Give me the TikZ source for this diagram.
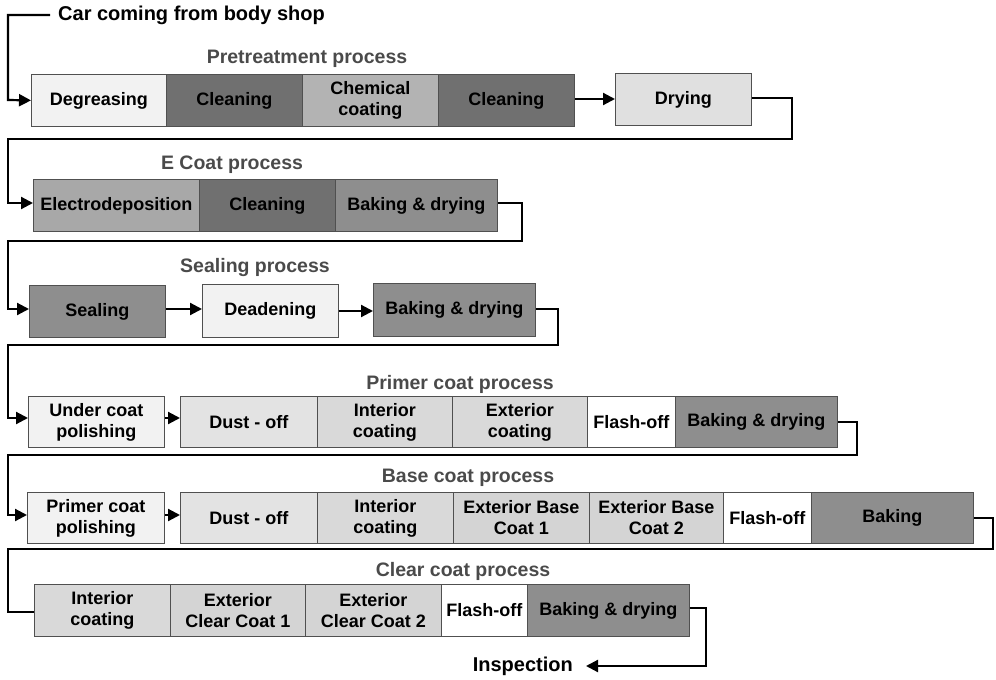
\documentclass[tikz,border=0pt]{standalone}
\usepackage{fontspec}
\setmainfont{Liberation Sans}
\usetikzlibrary{arrows.meta}
\definecolor{bordergray}{HTML}{505050}
\definecolor{labelgray}{HTML}{4A4A4A}
\definecolor{fLight}{HTML}{F2F2F2}
\definecolor{fDry}{HTML}{E0E0E0}
\definecolor{fDark}{HTML}{707070}
\definecolor{fChem}{HTML}{B3B3B3}
\definecolor{fElec}{HTML}{A8A8A8}
\definecolor{fBake}{HTML}{8E8E8E}
\definecolor{fDust}{HTML}{E3E3E3}
\definecolor{fInt}{HTML}{D9D9D9}
\definecolor{fExt}{HTML}{D4D4D4}
\newcommand\boxfont{\fontsize{18}{21}\selectfont\bfseries}
\newcommand\secfont{\fontsize{19.5}{22}\selectfont\bfseries}
\begin{document}
\begin{tikzpicture}[x=1pt,y=-1pt,
  box/.style={draw=bordergray, line width=0.8pt, inner sep=0pt, anchor=north west, align=center, font=\boxfont, text=black},
  wh/.style 2 args={minimum width=#1pt, minimum height=#2pt},
  seclabel/.style={font=\secfont, text=labelgray, inner sep=0pt},
  conn/.style={line width=2.2pt, line join=miter},
  arr/.style={conn, -{Triangle[length=12pt,width=12pt]}}]
\useasboundingbox (0,0) rectangle (996,680);

% title
\node[font=\fontsize{20}{22}\selectfont\bfseries, anchor=west, inner sep=0pt] (title) at (58,15) {Car coming from body shop};
\coordinate (t0) at (50,15);
\coordinate (l0) at (8,100);

% Row 1
\node[seclabel] (sec1) at (307,59) {Pretreatment process};
\node[box, wh={135}{52}, fill=fLight] (degr) at (31,74) {Degreasing};
\node[box, wh={136}{52}, fill=fDark] (cln1) at (166,74) {Cleaning};
\node[box, wh={136}{52}, fill=fChem] (chem) at (302,74) {Chemical\\coating};
\node[box, wh={136}{52}, fill=fDark] (cln2) at (438,74) {Cleaning};
\node[box, wh={136}{52}, fill=fDry] (dry) at (615,73) {Drying};
\draw[arr] (t0) -| (l0) -- (degr.west);
\draw[arr] (cln2.east |- 0,99) -- (dry.west |- 0,99);
\coordinate (r1) at (792,139);
\coordinate (l1) at (8,203);

% Row 2
\node[seclabel] (sec2) at (232,165) {E Coat process};
\node[box, wh={166}{52}, fill=fElec] (elec) at (33,179) {Electrodeposition};
\node[box, wh={136}{52}, fill=fDark] (cln3) at (199,179) {Cleaning};
\node[box, wh={162}{52}, fill=fBake] (bak2) at (335,179) {Baking \& drying};
\draw[arr] (dry.east |- 0,98) -| (r1) -| (l1) -- (elec.west |- l1);
\coordinate (r2) at (522,241);
\coordinate (l2) at (8,309);

% Row 3
\node[seclabel] (sec3) at (255,267) {Sealing process};
\node[box, wh={136}{52}, fill=fBake] (seal) at (29,285) {Sealing};
\node[box, wh={136}{53}, fill=fLight] (dead) at (202,284) {Deadening};
\node[box, wh={162}{53}, fill=fBake] (bak3) at (373,283) {Baking \& drying};
\draw[arr] (bak2.east |- 0,203) -| (r2) -| (l2) -- (seal.west |- l2);
\draw[arr] (seal.east |- 0,309) -- (dead.west |- 0,309);
\draw[arr] (dead.east |- 0,311) -- (bak3.west |- 0,311);
\coordinate (r3) at (558,345);
\coordinate (l3) at (8,418);

% Row 4
\node[seclabel] (sec4) at (460,384) {Primer coat process};
\node[box, wh={136}{51}, fill=fLight] (under) at (28,396) {Under coat\\polishing};
\node[box, wh={137}{51}, fill=fDust] (dust4) at (180,396) {Dust - off};
\node[box, wh={135}{51}, fill=fInt] (int4) at (317,396) {Interior\\coating};
\node[box, wh={135}{51}, fill=fInt] (ext4) at (452,396) {Exterior\\coating};
\node[box, wh={88}{51}, fill=white] (fl4) at (587,396) {Flash-off};
\node[box, wh={162}{51}, fill=fBake] (bak4) at (675,396) {Baking \& drying};
\draw[arr] (bak3.east |- 0,309) -| (r3) -| (l3) -- (under.west |- l3);
\draw[arr] (under.east |- 0,418) -- (dust4.west |- 0,418);
\coordinate (r4) at (857,455);
\coordinate (l4) at (8,515);

% Row 5
\node[seclabel] (sec5) at (468,478) {Base coat process};
\node[box, wh={137}{51}, fill=fLight] (pcp) at (27,492) {Primer coat\\polishing};
\node[box, wh={137}{51}, fill=fDust] (dust5) at (180,492) {Dust - off};
\node[box, wh={136}{51}, fill=fInt] (int5) at (317,492) {Interior\\coating};
\node[box, wh={136}{51}, fill=fExt] (eb1) at (453,492) {Exterior Base\\Coat 1};
\node[box, wh={134}{51}, fill=fExt] (eb2) at (589,492) {Exterior Base\\Coat 2};
\node[box, wh={88}{51}, fill=white] (fl5) at (723,492) {Flash-off};
\node[box, wh={162}{51}, fill=fBake] (bak5) at (811,492) {Baking};
\draw[arr] (bak4.east |- 0,422) -| (r4) -| (l4) -- (pcp.west |- l4);
\draw[arr] (pcp.east |- 0,515) -- (dust5.west |- 0,515);
\coordinate (r5) at (993,549);
\coordinate (l5) at (8,612);

% Row 6
\node[seclabel] (sec6) at (463,571) {Clear coat process};
\node[box, wh={136}{52}, fill=fInt] (int6) at (34,584) {Interior\\coating};
\node[box, wh={135}{52}, fill=fExt] (ec1) at (170,584) {Exterior\\Clear Coat 1};
\node[box, wh={136}{52}, fill=fExt] (ec2) at (305,584) {Exterior\\Clear Coat 2};
\node[box, wh={86}{52}, fill=white] (fl6) at (441,584) {Flash-off};
\node[box, wh={162}{52}, fill=fBake] (bak6) at (527,584) {Baking \& drying};
\draw[conn] (bak5.east |- 0,518) -| (r5) -| (l5) -- (int6.west |- l5);
\coordinate (r6) at (706,666);
\node[font=\fontsize{20}{22}\selectfont\bfseries, inner sep=0pt, anchor=east] (insp) at (573,666) {Inspection};
\draw[arr] (bak6.east |- 0,608) -| (r6) -- ([xshift=13pt]insp.east |- r6);
\end{tikzpicture}
\end{document}
